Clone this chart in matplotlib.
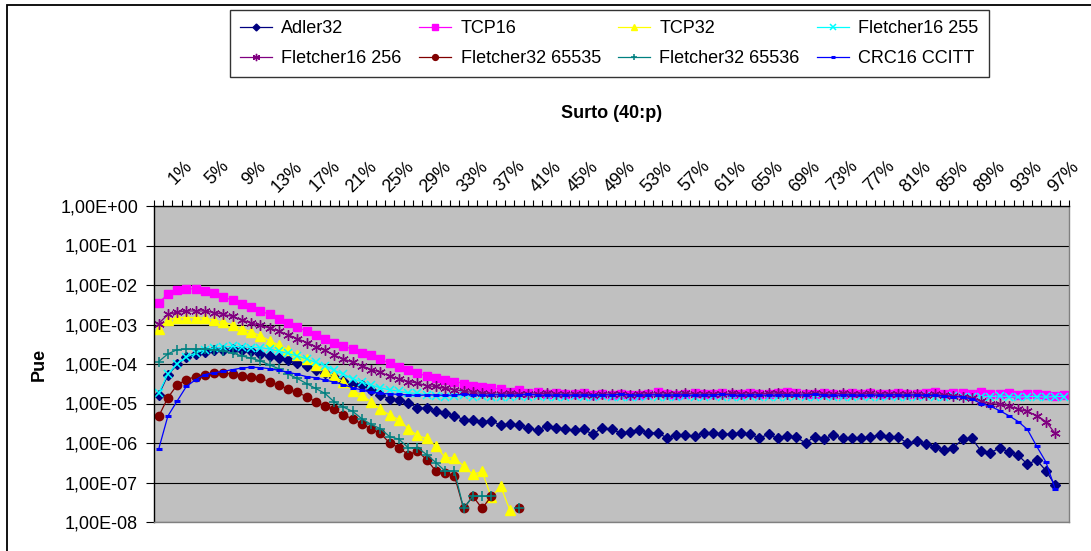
import numpy as np
import matplotlib
matplotlib.use("Agg")
import matplotlib.pyplot as plt
from matplotlib.ticker import LogLocator, NullLocator, FuncFormatter, FixedLocator
from matplotlib.transforms import ScaledTranslation
from matplotlib.patches import Rectangle

plt.rcParams['font.family'] = ['Liberation Sans', 'DejaVu Sans']

nan = np.nan

# burst length categories, 1% .. 99%
categories = [f"{p}%" for p in range(1, 100)]

adler32 = [
    1.65e-5, 5.2e-5, 9.8e-5, 1.5e-4, 1.75e-4, 2.0e-4, 2.25e-4, 2.3e-4, 2.35e-4, 2.25e-4,
    2.1e-4, 1.8e-4, 1.6e-4, 1.4e-4, 1.25e-4, 1.05e-4, 8.7e-5, 7.2e-5, 6.0e-5, 4.7e-5,
    3.8e-5, 3.2e-5, 2.9e-5, 2.15e-5, 1.65e-5, 1.3e-5, 1.2e-5, 1.05e-5, 7.6e-6, 7.6e-6,
    6.3e-6, 5.6e-6, 4.9e-6, 3.9e-6, 3.9e-6, 3.4e-6, 3.7e-6, 2.8e-6, 3.1e-6, 2.8e-6,
    2.35e-6, 2.1e-6, 2.7e-6, 2.45e-6, 2.2e-6, 2.1e-6, 2.2e-6, 1.65e-6, 2.45e-6, 2.2e-6,
    1.8e-6, 1.9e-6, 2.1e-6, 1.8e-6, 1.8e-6, 1.35e-6, 1.55e-6, 1.55e-6, 1.5e-6, 1.8e-6,
    1.8e-6, 1.65e-6, 1.7e-6, 1.8e-6, 1.65e-6, 1.35e-6, 1.65e-6, 1.3e-6, 1.5e-6, 1.4e-6,
    1.0e-6, 1.45e-6, 1.25e-6, 1.6e-6, 1.3e-6, 1.3e-6, 1.3e-6, 1.45e-6, 1.55e-6, 1.4e-6,
    1.4e-6, 1.0e-6, 1.1e-6, 9.5e-7, 8.0e-7, 6.6e-7, 7.6e-7, 1.25e-6, 1.3e-6, 6.2e-7,
    5.6e-7, 7.6e-7, 5.9e-7, 4.9e-7, 2.9e-7, 3.7e-7, 2.0e-7, 8.5e-8]

tcp16 = [
    3.5e-3, 5.9e-3, 7.4e-3, 8.1e-3, 7.9e-3, 7.2e-3, 6.2e-3, 5.0e-3, 4.1e-3, 3.3e-3,
    2.7e-3, 2.2e-3, 1.8e-3, 1.4e-3, 1.1e-3, 8.5e-4, 6.8e-4, 5.5e-4, 4.4e-4, 3.5e-4,
    2.8e-4, 2.4e-4, 1.95e-4, 1.65e-4, 1.3e-4, 1.05e-4, 8.3e-5, 7.1e-5, 5.8e-5, 5.0e-5,
    4.4e-5, 4.0e-5, 3.6e-5, 3.2e-5, 2.8e-5, 2.6e-5, 2.4e-5, 2.35e-5, 2.0e-5, 2.2e-5,
    1.85e-5, 1.9e-5, 1.7e-5, 1.8e-5, 1.75e-5, 1.7e-5, 1.8e-5, 1.65e-5, 1.75e-5, 1.6e-5,
    1.7e-5, 1.6e-5, 1.65e-5, 1.7e-5, 1.95e-5, 1.7e-5, 1.6e-5, 1.75e-5, 1.8e-5, 1.7e-5,
    1.75e-5, 1.8e-5, 1.7e-5, 1.75e-5, 1.8e-5, 1.7e-5, 1.75e-5, 1.8e-5, 1.9e-5, 1.8e-5,
    1.75e-5, 1.7e-5, 1.8e-5, 1.75e-5, 1.7e-5, 1.8e-5, 1.75e-5, 1.85e-5, 1.7e-5, 1.75e-5,
    1.8e-5, 1.75e-5, 1.7e-5, 1.8e-5, 1.9e-5, 1.75e-5, 1.85e-5, 1.8e-5, 1.75e-5, 1.9e-5,
    1.7e-5, 1.75e-5, 1.85e-5, 1.6e-5, 1.75e-5, 1.7e-5, 1.6e-5, 1.55e-5, 1.6e-5]

tcp32 = [
    7.6e-4, 1.3e-3, 1.5e-3, 1.5e-3, 1.5e-3, 1.45e-3, 1.3e-3, 1.15e-3, 9.8e-4, 7.9e-4,
    6.6e-4, 5.2e-4, 3.9e-4, 3.0e-4, 2.3e-4, 1.7e-4, 1.3e-4, 9.5e-5, 6.8e-5, 4.9e-5,
    3.5e-5, 2.1e-5, 1.65e-5, 1.1e-5, 7.1e-6, 5.1e-6, 3.9e-6, 2.3e-6, 1.55e-6, 1.3e-6,
    8.3e-7, 4.3e-7, 4.2e-7, 2.6e-7, 1.6e-7, 1.9e-7, 4.2e-8, 8.1e-8, 2.0e-8]

fletcher16_255 = [
    1.8e-5, 5.6e-5, 1.0e-4, 1.5e-4, 1.9e-4, 2.3e-4, 2.5e-4, 2.7e-4, 2.8e-4, 2.75e-4,
    2.6e-4, 2.6e-4, 2.4e-4, 2.1e-4, 1.85e-4, 1.6e-4, 1.35e-4, 1.1e-4, 9.1e-5, 6.9e-5,
    5.5e-5, 4.2e-5, 3.5e-5, 2.9e-5, 2.5e-5, 2.2e-5, 2.05e-5, 1.85e-5, 1.8e-5, 1.65e-5,
    1.55e-5, 1.5e-5, 1.55e-5, 1.6e-5, 1.5e-5, 1.55e-5, 1.5e-5, 1.45e-5, 1.5e-5, 1.55e-5,
    1.5e-5, 1.55e-5, 1.5e-5, 1.45e-5, 1.5e-5, 1.55e-5, 1.5e-5, 1.5e-5, 1.55e-5, 1.45e-5,
    1.5e-5, 1.45e-5, 1.5e-5, 1.55e-5, 1.5e-5, 1.45e-5, 1.5e-5, 1.55e-5, 1.5e-5, 1.5e-5,
    1.55e-5, 1.5e-5, 1.45e-5, 1.5e-5, 1.55e-5, 1.5e-5, 1.5e-5, 1.45e-5, 1.5e-5, 1.55e-5,
    1.5e-5, 1.5e-5, 1.55e-5, 1.5e-5, 1.45e-5, 1.5e-5, 1.55e-5, 1.5e-5, 1.5e-5, 1.55e-5,
    1.5e-5, 1.45e-5, 1.5e-5, 1.55e-5, 1.5e-5, 1.5e-5, 1.55e-5, 1.5e-5, 1.45e-5, 1.5e-5,
    1.5e-5, 1.55e-5, 1.5e-5, 1.45e-5, 1.5e-5, 1.5e-5, 1.45e-5, 1.5e-5, 1.5e-5]

fletcher16_256 = [
    1.05e-3, 1.8e-3, 2.05e-3, 2.2e-3, 2.2e-3, 2.2e-3, 2.0e-3, 1.8e-3, 1.6e-3, 1.3e-3,
    1.1e-3, 9.5e-4, 8.1e-4, 6.8e-4, 5.5e-4, 4.4e-4, 3.5e-4, 2.75e-4, 2.2e-4, 1.65e-4,
    1.35e-4, 1.1e-4, 9.1e-5, 7.2e-5, 6.2e-5, 4.9e-5, 4.2e-5, 3.6e-5, 3.3e-5, 2.8e-5,
    2.7e-5, 2.4e-5, 2.25e-5, 2.05e-5, 1.9e-5,
    1.8e-5, 1.75e-5, 1.7e-5, 1.8e-5, 1.75e-5, 1.7e-5, 1.75e-5, 1.8e-5, 1.7e-5, 1.75e-5,
    1.7e-5, 1.75e-5, 1.65e-5, 1.7e-5, 1.75e-5, 1.7e-5, 1.65e-5, 1.7e-5, 1.75e-5, 1.7e-5,
    1.75e-5, 1.7e-5, 1.8e-5, 1.75e-5, 1.7e-5, 1.75e-5, 1.7e-5, 1.8e-5, 1.75e-5, 1.7e-5,
    1.75e-5, 1.8e-5, 1.85e-5, 1.75e-5, 1.7e-5, 1.75e-5, 1.8e-5, 1.7e-5, 1.75e-5, 1.8e-5,
    1.7e-5, 1.75e-5, 1.8e-5, 1.7e-5, 1.75e-5, 1.7e-5, 1.75e-5, 1.7e-5, 1.65e-5, 1.7e-5,
    1.6e-5, 1.55e-5, 1.5e-5,
    1.4e-5, 1.15e-5, 1.0e-5, 9.5e-6, 8.7e-6, 7.2e-6, 6.3e-6, 4.9e-6, 3.5e-6, 1.75e-6]

fletcher32_65535 = [
    4.7e-6, 1.4e-5, 2.95e-5, 4.0e-5, 4.8e-5, 5.4e-5, 5.9e-5, 5.9e-5, 5.6e-5, 5.0e-5,
    4.8e-5, 4.3e-5, 3.6e-5, 2.95e-5, 2.3e-5, 1.9e-5, 1.5e-5, 1.1e-5, 8.5e-6, 7.1e-6,
    5.1e-6, 4.1e-6, 2.95e-6, 2.3e-6, 1.75e-6, 1.0e-6, 7.6e-7, 5.1e-7, 6.2e-7, 3.8e-7,
    1.95e-7, 1.7e-7, 1.5e-7, 2.2e-8, 4.5e-8, 2.2e-8, 4.5e-8, nan, nan, 2.2e-8]

fletcher32_65536 = [
    1.15e-4, 1.8e-4, 2.3e-4, 2.4e-4, 2.4e-4, 2.4e-4, 2.3e-4, 2.1e-4, 1.9e-4, 1.6e-4,
    1.4e-4, 1.2e-4, 9.5e-5, 7.6e-5, 5.6e-5, 4.3e-5, 3.2e-5, 2.4e-5, 1.8e-5, 1.1e-5,
    8.1e-6, 6.3e-6, 4.1e-6, 2.95e-6, 2.3e-6, 1.45e-6, 1.25e-6, 7.6e-7, 7.6e-7, 5.1e-7,
    3.2e-7, 1.95e-7, 1.95e-7, 2.2e-8, 4.5e-8, 4.5e-8, 4.5e-8, nan, nan, 2.2e-8]

crc16_ccitt = [
    6.9e-7, 4.8e-6, 1.15e-5, 2.7e-5, 4.0e-5, 5.4e-5, 6.0e-5, 6.5e-5, 7.2e-5, 7.9e-5,
    8.3e-5, 8.1e-5, 7.6e-5, 6.9e-5, 6.2e-5, 5.5e-5, 4.8e-5, 4.5e-5, 3.9e-5, 3.5e-5,
    3.0e-5, 2.5e-5, 2.2e-5, 1.95e-5, 1.8e-5, 1.75e-5, 1.7e-5,
    1.65e-5, 1.6e-5, 1.65e-5, 1.65e-5, 1.6e-5, 1.65e-5, 1.7e-5, 1.65e-5, 1.6e-5, 1.65e-5,
    1.65e-5, 1.6e-5, 1.65e-5, 1.7e-5, 1.65e-5, 1.6e-5, 1.65e-5, 1.65e-5, 1.6e-5, 1.65e-5,
    1.6e-5, 1.65e-5, 1.65e-5, 1.7e-5, 1.65e-5, 1.6e-5, 1.65e-5, 1.65e-5, 1.6e-5, 1.65e-5,
    1.65e-5, 1.6e-5, 1.65e-5, 1.65e-5, 1.7e-5, 1.65e-5, 1.6e-5, 1.65e-5, 1.65e-5, 1.6e-5,
    1.65e-5, 1.65e-5, 1.6e-5, 1.65e-5, 1.7e-5, 1.65e-5, 1.6e-5, 1.65e-5, 1.65e-5, 1.6e-5,
    1.65e-5, 1.6e-5, 1.65e-5, 1.65e-5, 1.6e-5, 1.65e-5, 1.6e-5,
    1.6e-5, 1.55e-5, 1.5e-5, 1.45e-5,
    1.3e-5, 1.0e-5, 8.5e-6, 6.6e-6, 4.9e-6, 3.5e-6, 2.2e-6, 8.3e-7, 3.3e-7, 6.9e-8]

series = [
    ("Adler32", adler32, "#000080", "D", 5.0, 1.0),
    ("TCP16", tcp16, "#FF00FF", "s", 5.8, 1.0),
    ("TCP32", tcp32, "#FFFF00", "^", 6.6, 1.0),
    ("Fletcher16 255", fletcher16_255, "#00FFFF", "x", 6.0, 1.1),
    ("Fletcher16 256", fletcher16_256, "#800080", (6, 2, 0), 7.5, 1.0),
    ("Fletcher32 65535", fletcher32_65535, "#800000", "o", 6.0, 1.0),
    ("Fletcher32 65536", fletcher32_65536, "#008080", "+", 7.0, 1.1),
    ("CRC16 CCITT", crc16_ccitt, "#0000FF", "_", 4.5, 2.2),
]

W, H = 1091, 551
fig = plt.figure(figsize=(W / 100, H / 100), dpi=100)
fig.patch.set_facecolor("white")

# plot area in pixels: x 154..1069, y 206..522
ax = fig.add_axes([154 / W, 1 - 522 / H, (1069 - 154) / W, (522 - 206) / H])
ax.set_facecolor("#C0C0C0")

lines = []
for name, vals, col, mk, ms, mew in series:
    x = np.arange(len(vals))
    ln, = ax.plot(x, vals, color=col, lw=0.9, marker=mk, markersize=ms,
                  markerfacecolor=col, markeredgecolor=col, markeredgewidth=mew,
                  label=name)
    lines.append(ln)

ax.set_yscale("log")
ax.set_ylim(1e-8, 1)
ax.set_xlim(-0.5, len(categories) - 0.5)

ax.yaxis.set_major_locator(LogLocator(base=10, numticks=20))
ax.yaxis.set_minor_locator(NullLocator())
ax.yaxis.set_major_formatter(FuncFormatter(lambda v, p: f"{v:.2E}".replace(".", ",")))
ax.tick_params(axis="y", which="major", length=5.5, width=0.8, pad=6,
               labelsize=13, color="black", direction="out")

ax.yaxis.grid(True, which="major", color="black", lw=0.8)
ax.set_axisbelow(True)

# category axis on top, labels every 4th category, text end anchored near the tick
ax.xaxis.tick_top()
lab_idx = list(range(0, len(categories), 4))
ax.xaxis.set_major_locator(FixedLocator(lab_idx))
ax.set_xticklabels([categories[i] for i in lab_idx])
ax.xaxis.set_minor_locator(FixedLocator(np.arange(-0.5, len(categories), 1.0)))
ax.tick_params(axis="x", which="major", length=0, pad=28, labelsize=13,
               top=True, bottom=False, labeltop=True, labelbottom=False)
ax.tick_params(axis="x", which="minor", length=4.5, width=0.8, color="black",
               top=True, bottom=False, direction="out")
shift = ScaledTranslation(0.34, 0, fig.dpi_scale_trans)
for lab in ax.get_xticklabels():
    lab.set_rotation(45)
    lab.set_ha("right")
    lab.set_va("baseline")
    lab.set_rotation_mode("anchor")
    lab.set_transform(lab.get_transform() + shift)

for s in ["top", "left"]:
    ax.spines[s].set_color("black")
    ax.spines[s].set_linewidth(1.0)
for s in ["bottom", "right"]:
    ax.spines[s].set_color("#808080")
    ax.spines[s].set_linewidth(1.0)

fig.text(612 / W, 1 - 118 / H, "Surto (40:p)", ha="center", va="baseline",
         fontsize=13, fontweight="bold")
fig.text(39 / W, 1 - 364 / H, "Pue", ha="center", va="center", rotation=90,
         fontsize=13, fontweight="bold")

# legend, column-major order to match the 2x4 layout
order = [0, 4, 1, 5, 2, 6, 3, 7]
leg = fig.legend([lines[i] for i in order], [lines[i].get_label() for i in order],
                 loc="upper left", bbox_to_anchor=(230 / W, 1 - 10 / H), ncol=4,
                 fontsize=13, frameon=True, fancybox=False, borderaxespad=0,
                 handlelength=1.8, handletextpad=0.5, columnspacing=0.95,
                 labelspacing=0.72, borderpad=0.55, markerscale=0.7, numpoints=1)
leg.get_frame().set_edgecolor("black")
leg.get_frame().set_linewidth(1.0)

# outer chart border (clipped at right and bottom in the reference)
fig.add_artist(Rectangle((6.5 / W, -0.1), 2.0, 1.1 - 5 / H, transform=fig.transFigure,
                         fill=False, edgecolor="black", lw=1.3))

fig.savefig("out.png", dpi=100)
